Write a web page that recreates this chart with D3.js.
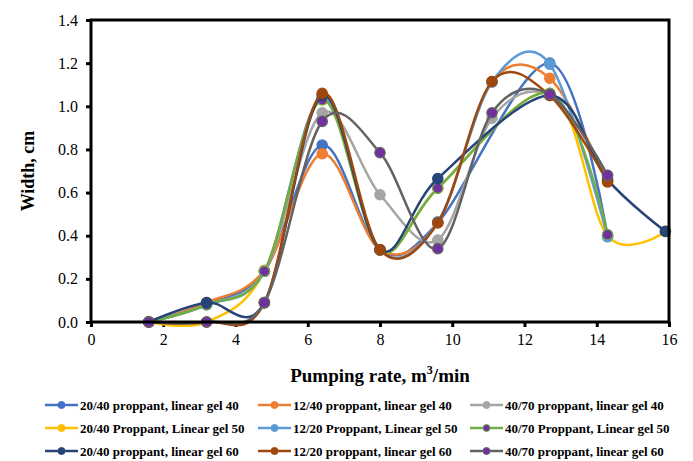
<!DOCTYPE html>
<html>
<head>
<meta charset="utf-8">
<script src="https://cdn.jsdelivr.net/npm/d3@7"></script>
<style>
  body { margin: 0; background: #fff; }
  svg { display: block; font-family: "Liberation Serif", "Times New Roman", serif; }
</style>
</head>
<body>
<svg id="chart"></svg>
<script>
// pumping rate, m3/min
const rates = [1.6, 3.2, 4.8, 6.4, 8.0, 9.6, 11.1, 12.7, 14.3, 15.9];

const seriesNames = [
    "20/40 proppant, linear gel 40",
    "12/40 proppant, linear gel 40",
    "40/70 proppant, linear gel 40",
    "20/40 Proppant, Linear gel 50",
    "12/20 Proppant, Linear gel 50",
    "40/70 Proppant, Linear gel 50",
    "20/40 proppant, linear gel 60",
    "12/20 proppant, linear gel 60",
    "40/70 proppant, linear gel 60"
];

// width, cm (null = no point at that rate)
const w2040gel40 = [0, 0.085, 0.235, 0.82, 0.335, 0.46, null, 1.20, 0.40, null];
const w1240gel40 = [0, 0.09, 0.24, 0.78, 0.335, 0.46, 1.115, 1.13, 0.65, null];
const w4070gel40 = [0, 0.08, 0.235, 0.97, 0.59, 0.38, 0.945, 1.05, 0.68, null];
const w2040gel50 = [0, 0, 0.235, 1.03, 0.335, 0.62, null, 1.06, 0.40, 0.42];
const w1220gel50 = [0, 0.08, 0.235, 1.04, 0.335, 0.465, 1.112, 1.195, 0.395, null];
const w4070gel50 = [0, 0.08, 0.235, 1.03, 0.335, 0.62, null, 1.06, 0.405, null];
const w2040gel60 = [0, 0.09, 0.09, 1.05, 0.335, 0.665, null, 1.05, 0.66, 0.42];
const w1220gel60 = [0, 0, 0.09, 1.06, 0.335, 0.46, 1.115, 1.05, 0.65, null];
const w4070gel60 = [0, 0, 0.09, 0.93, 0.785, 0.34, 0.97, 1.055, 0.68, null];

const xTicks = [0, 2, 4, 6, 8, 10, 12, 14, 16];
const yTicks = [0, 0.2, 0.4, 0.6, 0.8, 1.0, 1.2, 1.4];

const allValues = [w2040gel40, w1240gel40, w4070gel40, w2040gel50, w1220gel50,
    w4070gel50, w2040gel60, w1220gel60, w4070gel60];

const lineColors = ["#4472C4", "#ED7D31", "#A5A5A5", "#FFC000", "#5B9BD5",
    "#70AD47", "#264478", "#9E480E", "#636363"];
const markerColors = ["#4472C4", "#ED7D31", "#A5A5A5", "#FFC000", "#5B9BD5",
    "#7030A0", "#264478", "#9E480E", "#7030A0"];

const dim = { width: 693, height: 461, left: 91, right: 669, top: 20, bottom: 322 };

const svg = d3.select("#chart")
    .attr("width", dim.width)
    .attr("height", dim.height);

const x = d3.scaleLinear().domain([0, 16]).range([dim.left, dim.right]);
const y = d3.scaleLinear().domain([0, 1.4]).range([dim.bottom, dim.top]);

// axes
const xAxis = d3.axisBottom(x).tickValues(xTicks).tickSize(5).tickPadding(7)
    .tickFormat(d3.format("d"));
const yAxis = d3.axisLeft(y).tickValues(yTicks).tickSize(5).tickPadding(8)
    .tickFormat(d3.format(".1f"));

const gx = svg.append("g")
    .attr("transform", "translate(0," + dim.bottom + ")")
    .call(xAxis);
const gy = svg.append("g")
    .attr("transform", "translate(" + dim.left + ",0)")
    .call(yAxis);

[gx, gy].forEach(g => {
    g.select(".domain").remove();
    g.selectAll(".tick line").attr("stroke", "#000").attr("stroke-width", 3);
    g.selectAll(".tick text")
        .attr("font-size", 16)
        .attr("fill", "#000")
        .style("font-family", "Liberation Serif, serif");
});

// series, smoothed like the spreadsheet (uniform Catmull-Rom)
const line = d3.line()
    .x(d => x(d[0]))
    .y(d => y(d[1]))
    .curve(d3.curveCardinal.tension(0));

const plot = svg.append("g");

allValues.forEach((vals, i) => {
    const pts = rates.map((r, j) => [r, vals[j]]).filter(d => d[1] !== null);
    plot.append("path")
        .datum(pts)
        .attr("fill", "none")
        .attr("stroke", lineColors[i])
        .attr("stroke-width", 2.5)
        .attr("d", line);
    plot.selectAll(null)
        .data(pts)
        .enter().append("circle")
        .attr("cx", d => x(d[0]))
        .attr("cy", d => y(d[1]))
        .attr("r", 5.2)
        .attr("fill", markerColors[i])
        .attr("stroke", lineColors[i])
        .attr("stroke-width", 1.2);
});

// plot border
svg.append("rect")
    .attr("x", dim.left)
    .attr("y", dim.top)
    .attr("width", dim.right - dim.left)
    .attr("height", dim.bottom - dim.top)
    .attr("fill", "none")
    .attr("stroke", "#000")
    .attr("stroke-width", 3);

// axis titles
const xTitle = svg.append("text")
    .attr("x", (dim.left + dim.right) / 2)
    .attr("y", 382)
    .attr("text-anchor", "middle")
    .attr("font-size", 19)
    .attr("font-weight", "bold");
xTitle.append("tspan").text("Pumping rate, m");
xTitle.append("tspan").attr("font-size", 12).attr("dy", -8).text("3");
xTitle.append("tspan").attr("dy", 8).text("/min");

svg.append("text")
    .attr("transform", "translate(34," + ((dim.top + dim.bottom) / 2) + ") rotate(-90)")
    .attr("text-anchor", "middle")
    .attr("font-size", 18)
    .attr("font-weight", "bold")
    .text("Width, cm");

// legend
const legendCols = [45, 258, 470];
const legendRows = [405, 428, 451];

const legend = svg.append("g");
seriesNames.forEach((name, i) => {
    const lx = legendCols[i % 3];
    const ly = legendRows[Math.floor(i / 3)];
    const g = legend.append("g").attr("transform", "translate(" + lx + "," + ly + ")");
    g.append("line")
        .attr("x1", 0).attr("x2", 33)
        .attr("y1", 0).attr("y2", 0)
        .attr("stroke", lineColors[i])
        .attr("stroke-width", 2.5);
    g.append("circle")
        .attr("cx", 16.5).attr("cy", 0).attr("r", 3.5)
        .attr("fill", markerColors[i])
        .attr("stroke", lineColors[i])
        .attr("stroke-width", 1);
    g.append("text")
        .attr("x", 35)
        .attr("y", 4.5)
        .attr("font-size", 13)
        .attr("font-weight", "bold")
        .text(name);
});
</script>
</body>
</html>
